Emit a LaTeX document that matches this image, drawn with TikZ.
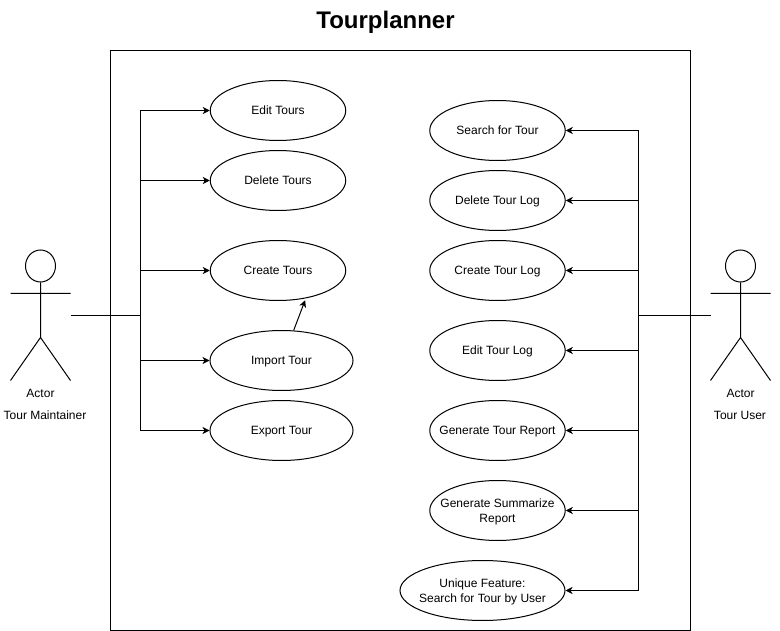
\documentclass[tikz,border=0pt]{standalone}
\usepackage{fontspec}
\setmainfont{Liberation Sans}
\usetikzlibrary{shapes.geometric,arrows.meta}
\tikzset{
 uc/.style={draw=black,fill=white,ellipse,line width=1pt,minimum width=135.5pt,minimum height=60pt,align=center,font=\fontsize{12}{15}\selectfont,inner xsep=-30pt,inner ysep=-10pt},
 oneline/.style={text height=8.6pt,text depth=0pt},
 conn/.style={draw=black,line width=1pt,-{Stealth[length=7pt,width=7pt,inset=2pt]}},
 plain/.style={draw=black,line width=1pt},
 lab/.style={font=\fontsize{12}{14}\selectfont,inner sep=0pt,text height=8.6pt,text depth=0pt},
 headc/.style={draw=black,fill=white,ellipse,line width=1pt,minimum width=30pt,minimum height=32pt,inner sep=0pt}
}
\begin{document}
\begin{tikzpicture}[x=1pt,y=-1pt]
\useasboundingbox (0,0) rectangle (780,631);
\node[inner sep=0pt,text height=17.2pt,text depth=0pt,font=\bfseries\fontsize{24}{28}\selectfont] (title) at (385.5,19.5) {Tourplanner};
\node[draw=black,line width=1pt,minimum width=580pt,minimum height=580pt,inner sep=0pt,outer sep=0pt] (sys) at (400.5,340.5) {};
% left ellipses
\node[uc,oneline] (edit) at (278,110.5) {Edit Tours};
\node[uc,oneline] (del) at (278,180.5) {Delete Tours};
\node[uc,oneline] (create) at (278,270.5) {Create Tours};
\node[uc,oneline,minimum width=143pt] (import) at (281.5,360.5) {Import Tour};
\node[uc,oneline,minimum width=143pt] (export) at (281.5,430.5) {Export Tour};
% right ellipses
\node[uc,oneline] (search) at (497.5,130.5) {Search for Tour};
\node[uc,oneline] (dlog) at (497.5,200.5) {Delete Tour Log};
\node[uc,oneline] (clog) at (497.5,270.5) {Create Tour Log};
\node[uc,oneline] (elog) at (497.5,350.5) {Edit Tour Log};
\node[uc,oneline] (rep) at (497.5,430.5) {Generate Tour Report};
\node[uc] (sum) at (497.5,510.5) {\rule{0pt}{10.7pt}Generate Summarize\\Report};
\node[uc,minimum width=165pt] (uniq) at (482.5,590.5) {\rule{0pt}{10.7pt}Unique Feature:\\[0pt]Search for Tour by User\hspace{3pt}};
% actors
\node[headc] (h1) at (40.5,266) {};
\coordinate (n1) at (40.5,337.5);
\coordinate (hipL) at (70.5,315.5);
\draw[plain] (h1.south) -- (n1) (10.5,293.5) -- (70.5,293.5) (n1) -- (10.5,380.5) (n1) -- (70.5,380.5);
\node[lab] (a1) at (40.5,393.7) {Actor};
\node[lab] (t1) at (45,414.7) {Tour Maintainer};
\node[headc] (h2) at (740.5,266) {};
\coordinate (n2) at (740.5,337.5);
\coordinate (hipR) at (710.5,315.5);
\draw[plain] (h2.south) -- (n2) (710.5,293.5) -- (770.5,293.5) (n2) -- (710.5,380.5) (n2) -- (770.5,380.5);
\node[lab] (a2) at (740.5,393.7) {Actor};
\node[lab] (t2) at (740,414.7) {Tour User};
% connectors left
\coordinate (busL) at (140.5,315.5);
\draw[plain] (hipL) -- (busL);
\foreach \t in {edit,del,create,import,export}{
 \draw[conn] (busL) -- (busL |- \t.west) -- (\t.west);
}
% connectors right
\coordinate (busR) at (638,315.5);
\draw[plain] (hipR) -- (busR);
\foreach \t in {search,dlog,clog,elog,rep,sum,uniq}{
 \draw[conn] (busR) -- (busR |- \t.east) -- (\t.east);
}
\draw[conn,shorten >=2pt] (import.68) -- (create.-45);
\end{tikzpicture}
\end{document}
